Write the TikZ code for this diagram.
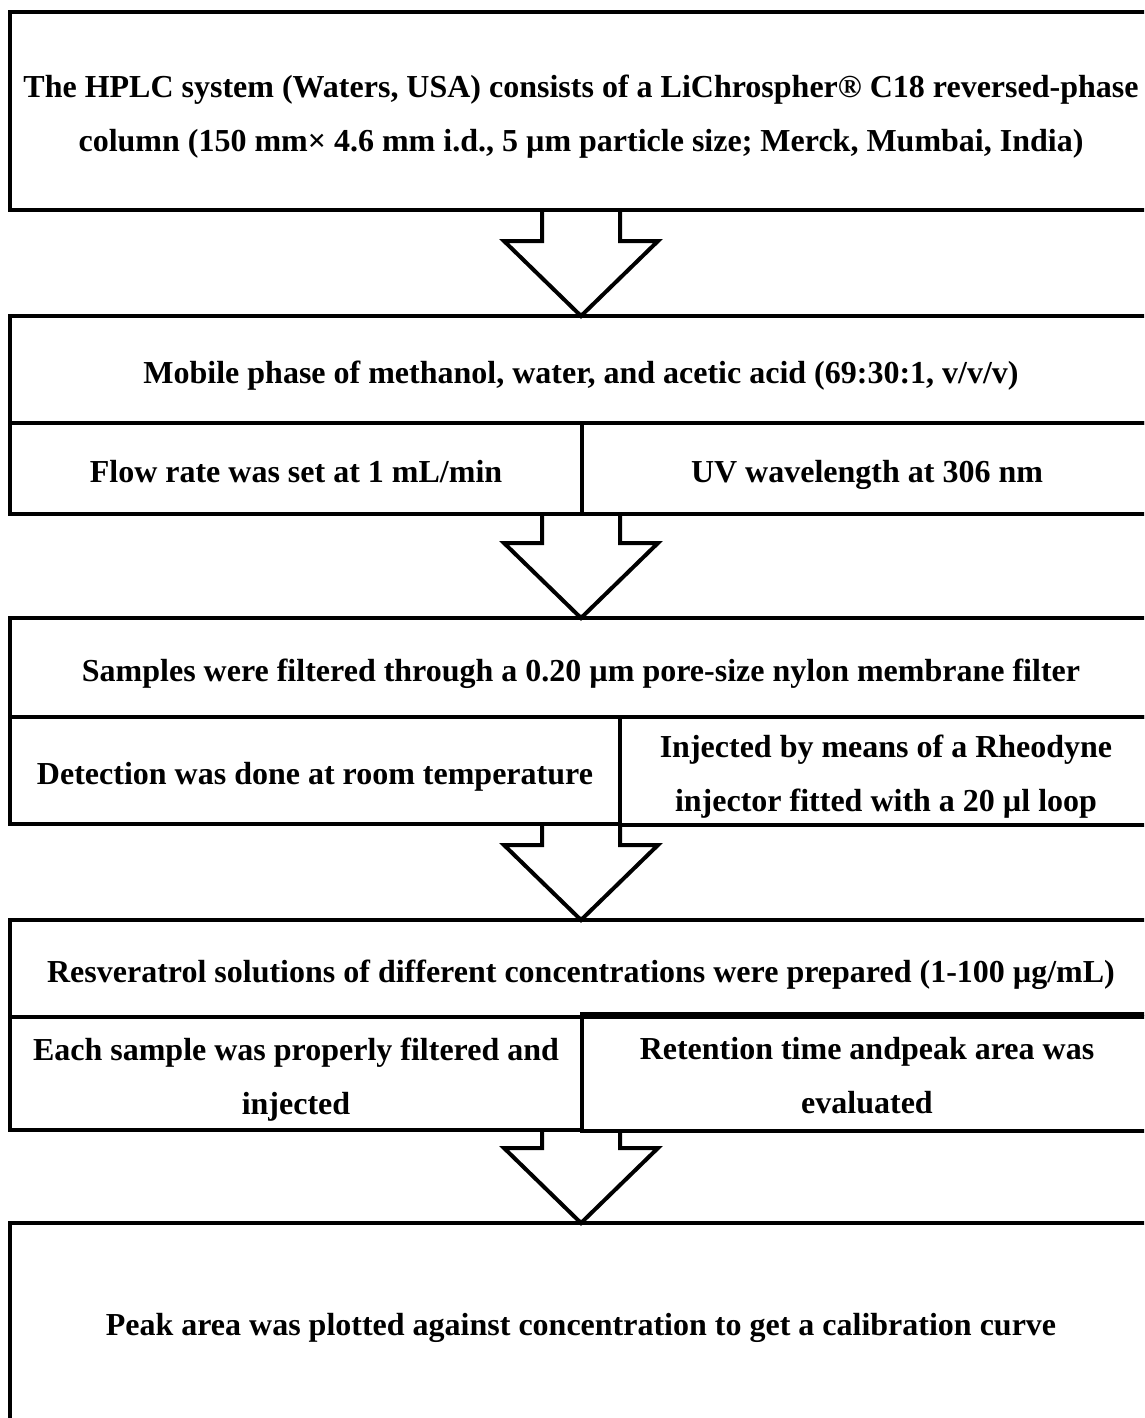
\documentclass[tikz,border=0pt]{standalone}
\usepackage{fontspec}
\setmainfont{Liberation Serif}
\usetikzlibrary{calc}

% line strut: every text line is 54pt tall, baseline 40.5pt below its top
\newcommand\ls{\rule[-13.5pt]{0pt}{54pt}}

% block arrow between two steps: shaft from #1 down to the head, tip at #2
\newcommand\flowarrow[2]{%
  \draw[flowarrow] let \p1=(#1), \p2=(#2) in
    (\x2-39pt,\y1) -- (\x2-39pt,\y2+75pt) -- (\x2-77pt,\y2+75pt) --
    (\x2,\y2) -- (\x2+77pt,\y2+75pt) -- (\x2+39pt,\y2+75pt) -- (\x2+39pt,\y1);
}

\begin{document}
\begin{tikzpicture}[x=1pt,y=-1pt,
  box/.style={draw, line width=4pt, rectangle, inner sep=0pt, outer sep=0pt,
    align=center, font=\bfseries\fontsize{32}{54}\selectfont},
  flowarrow/.style={line width=4pt, line join=miter}]
\clip (0,0) rectangle (1144,1418);
\fill[white] (0,0) rectangle (1144,1418);

% step 1
\node[box, minimum width=1142pt, minimum height=198pt] (s1) at (581,111)
  {\ls The HPLC system (Waters, USA) consists of a LiChrospher® C18 reversed-phase\\
   \ls column (150 mm× 4.6 mm i.d., 5 µm particle size; Merck, Mumbai, India)};

% step 2
\node[box, minimum width=1142pt, minimum height=107pt] (s2) at (581,369.5)
  {\ls Mobile phase of methanol, water, and acetic acid (69:30:1, v/v/v)};
\node[box, minimum width=572pt, minimum height=91pt] (s2l) at (296,468.5)
  {\ls Flow rate was set at 1 mL/min};
\node[box, minimum width=570pt, minimum height=91pt] (s2r) at (867,468.5)
  {\ls UV wavelength at 306 nm};

% step 3
\node[box, minimum width=1142pt, minimum height=99pt] (s3) at (581,667.5)
  {\ls Samples were filtered through a 0.20 µm pore-size nylon membrane filter};
\node[box, minimum width=610pt, minimum height=107pt] (s3l) at (315,770.5)
  {\ls Detection was done at room temperature};
\node[box, minimum width=532pt, minimum height=107pt] (s3r) at (886,770.5)
  {\ls Injected by means of a Rheodyne\\\ls injector fitted with a 20 µl loop};

% step 4
\node[box, minimum width=1142pt, minimum height=97pt] (s4) at (581,968.5)
  {\ls Resveratrol solutions of different concentrations were prepared (1-100 µg/mL)};
\node[box, minimum width=572pt, minimum height=113pt] (s4l) at (296,1073.5)
  {\ls Each sample was properly filtered and\\\ls injected};
\node[box, minimum width=570pt, minimum height=117pt] (s4r) at (867,1072.5)
  {\ls Retention time andpeak area was\\\ls evaluated};

% step 5
\node[box, minimum width=1142pt, minimum height=198pt] (s5) at (581,1322)
  {\ls Peak area was plotted against concentration to get a calibration curve};

% arrows between steps
\flowarrow{s1.south}{s2.north}
\flowarrow{s2l.south east}{s3.north}
\flowarrow{s3l.south -| s3.south}{s4.north}
\flowarrow{s4l.south east}{s5.north}
\end{tikzpicture}
\end{document}
